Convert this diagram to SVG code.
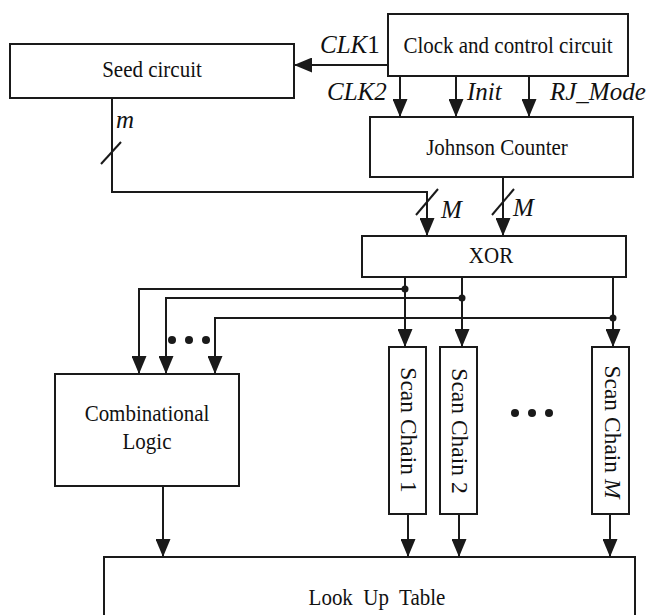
<svg xmlns="http://www.w3.org/2000/svg" width="654" height="615" viewBox="0 0 654 615">
<style>
.box{fill:#fff;stroke:#1a1a1a;stroke-width:2}
.ln{fill:none;stroke:#1a1a1a;stroke-width:2}
.t{font-family:'Liberation Serif','Tinos','Times New Roman','DejaVu Serif',serif;font-size:21px;fill:#111;text-anchor:middle}
.it{font-family:'Liberation Serif','Tinos','Times New Roman','DejaVu Serif',serif;font-size:25px;font-style:italic;fill:#111}
.sc{font-size:23.5px}
.dot{fill:#1a1a1a}
</style>
<defs>
<marker id="ah" markerUnits="userSpaceOnUse" markerWidth="18" markerHeight="15" refX="18" refY="7.5" orient="auto">
<path d="M0,0 L18,7.5 L0,15 Z" fill="#1a1a1a"/>
</marker>
</defs>
<rect width="654" height="615" fill="#fff"/>
<g id="connectors">
<line class="ln" x1="388" y1="65" x2="294" y2="65" marker-end="url(#ah)"/>
<line class="ln" x1="400" y1="76" x2="400" y2="117" marker-end="url(#ah)"/>
<line class="ln" x1="456" y1="76" x2="456" y2="117" marker-end="url(#ah)"/>
<line class="ln" x1="529" y1="76" x2="529" y2="117" marker-end="url(#ah)"/>
<polyline class="ln" points="112,98 112,192 427,192 427,236" marker-end="url(#ah)"/>
<line class="ln" x1="101" y1="164" x2="121" y2="142"/>
<line class="ln" x1="416" y1="215" x2="438" y2="189"/>
<line class="ln" x1="503" y1="177" x2="503" y2="236" marker-end="url(#ah)"/>
<line class="ln" x1="492" y1="215" x2="514" y2="189"/>
<line class="ln" x1="405" y1="277" x2="405" y2="347" marker-end="url(#ah)"/>
<line class="ln" x1="462" y1="277" x2="462" y2="347" marker-end="url(#ah)"/>
<line class="ln" x1="613" y1="277" x2="613" y2="347" marker-end="url(#ah)"/>
<polyline class="ln" points="405,289 139,289 139,374" marker-end="url(#ah)"/>
<polyline class="ln" points="462,298 166,298 166,374" marker-end="url(#ah)"/>
<polyline class="ln" points="613,318 215,318 215,374" marker-end="url(#ah)"/>
<circle class="dot" cx="405" cy="289" r="3.5"/>
<circle class="dot" cx="462" cy="298" r="3.5"/>
<circle class="dot" cx="613" cy="318" r="3.5"/>
<line class="ln" x1="163" y1="486" x2="163" y2="557" marker-end="url(#ah)"/>
<line class="ln" x1="408" y1="514" x2="408" y2="557" marker-end="url(#ah)"/>
<line class="ln" x1="459" y1="514" x2="459" y2="557" marker-end="url(#ah)"/>
<line class="ln" x1="610" y1="514" x2="610" y2="557" marker-end="url(#ah)"/>
<circle class="dot" cx="172" cy="340" r="4"/>
<circle class="dot" cx="189" cy="340" r="4"/>
<circle class="dot" cx="206" cy="340" r="4"/>
<circle class="dot" cx="515" cy="413" r="4"/>
<circle class="dot" cx="532" cy="413" r="4"/>
<circle class="dot" cx="549" cy="413" r="4"/>
<text class="it" x="320" y="53">CLK<tspan font-style="normal">1</tspan></text>
<text class="it" x="327" y="100">CLK2</text>
<text class="it" x="467" y="100">Init</text>
<text class="it" x="550" y="100">RJ_Mode</text>
<text class="it" x="116" y="128">m</text>
<text class="it" x="441" y="218">M</text>
<text class="it" x="513" y="216">M</text>
</g>
<g id="seed">
<rect class="box" x="10" y="44" width="284" height="54"/>
<text class="t" transform="translate(152,77) scale(1,1.12)">Seed circuit</text>
</g>
<g id="clock">
<rect class="box" x="388" y="14" width="240" height="62"/>
<text class="t" transform="translate(508,53) scale(1,1.12)">Clock and control circuit</text>
</g>
<g id="johnson">
<rect class="box" x="370" y="117" width="263" height="60"/>
<text class="t" transform="translate(497,155) scale(1,1.12)">Johnson Counter</text>
</g>
<g id="xor">
<rect class="box" x="362" y="236" width="264" height="41"/>
<text class="t" transform="translate(491,263) scale(1,1.12)">XOR</text>
</g>
<g id="comb">
<rect class="box" x="55" y="374" width="184" height="112"/>
<text class="t" transform="translate(147,421) scale(1,1.12)">Combinational</text>
<text class="t" transform="translate(147,449) scale(1,1.12)">Logic</text>
</g>
<g id="scan1">
<rect class="box" x="389" y="347" width="37" height="167"/>
<text class="t sc" transform="translate(401,430) rotate(90)">Scan Chain 1</text>
</g>
<g id="scan2">
<rect class="box" x="440" y="347" width="37" height="167"/>
<text class="t sc" transform="translate(452,431) rotate(90)">Scan Chain 2</text>
</g>
<g id="scanM">
<rect class="box" x="592" y="347" width="37" height="167"/>
<text class="t sc" transform="translate(605,432) rotate(90)">Scan Chain <tspan font-style="italic">M</tspan></text>
</g>
<g id="lut">
<rect class="box" x="104" y="557" width="531" height="90"/>
<text class="t" transform="translate(377,605) scale(1,1.12)" xml:space="preserve">Look  Up  Table</text>
</g>
</svg>
